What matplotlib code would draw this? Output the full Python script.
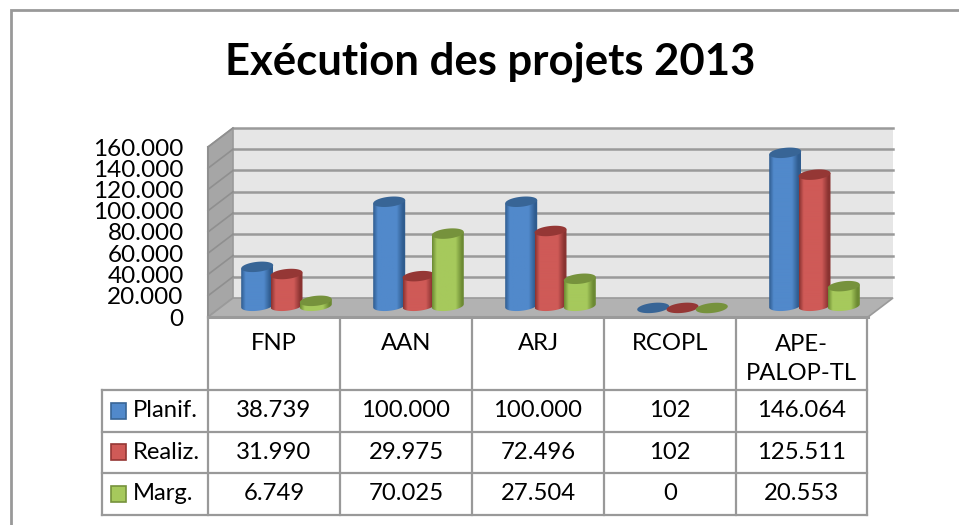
import numpy as np
import matplotlib.pyplot as plt
from matplotlib.colors import LinearSegmentedColormap
from matplotlib.patches import Polygon, Rectangle
from matplotlib.ticker import FuncFormatter

plt.rcParams['font.family'] = ['Lato', 'DejaVu Sans']

# data
categories = ['FNP', 'AAN', 'ARJ', 'RCOPL', 'APE-\nPALOP-TL']
series_names = ['Planif.', 'Realiz.', 'Marg.']
planif = [38739, 100000, 100000, 102, 146064]
realiz = [31990, 29975, 72496, 102, 125511]
marg = [6749, 70025, 27504, 0, 20553]
y_ticks = [0, 20000, 40000, 60000, 80000, 100000, 120000, 140000, 160000]

# colours: dark edge, light centre, cap
blue = ['#2f5c8f', '#5189cb', '#386596']
red = ['#8a3331', '#cf5a57', '#953735']
green = ['#6c8a33', '#a6c95c', '#76923c']

W, H = 959, 525
GRID = '#9a9a9a'


def thousands(v, pos=None):
    return f'{int(v):,}'.replace(',', '.')


fig = plt.figure(figsize=(W / 100, H / 100), dpi=100, facecolor='white')

# page layer in pixels: frame, title, table
page = fig.add_axes([0, 0, 1, 1], zorder=0)
page.set_xlim(0, W)
page.set_ylim(H, 0)
page.axis('off')
page.plot([10.5, 10.5, W], [H, 9.5, 9.5], color='#999999', lw=2.0, solid_joinstyle='miter')
page.text(490, 62, 'Exécution des projets 2013', fontsize=31.4, fontweight='bold',
          ha='center', va='center', color='black')

# chart layer: front plane of the 3D box
left, right, bottom, top = 208, 868, 317, 147
ax = fig.add_axes([left / W, 1 - bottom / H, (right - left) / W, (bottom - top) / H], zorder=1)
ax.patch.set_alpha(0)
for s in ax.spines.values():
    s.set_visible(False)

n = len(categories)
ymax = y_ticks[-1]
px_x = n / (right - left)
px_y = ymax / (bottom - top)
dx, dy = 25 * px_x, 19 * px_y

# walls and floor
ax.add_patch(Polygon([(dx, dy), (n + dx, dy), (n + dx, ymax + dy), (dx, ymax + dy)],
                     fc='#e6e6e6', ec='none', zorder=1, clip_on=False))
ax.add_patch(Polygon([(0, 0), (dx, dy), (dx, ymax + dy), (0, ymax)],
                     fc='#a6a6a6', ec=GRID, lw=1.2, zorder=1, clip_on=False))
ax.add_patch(Polygon([(0, 0), (n, 0), (n + dx, dy), (dx, dy)],
                     fc='#b2b2b2', ec=GRID, lw=1.2, zorder=2, clip_on=False))
for v in y_ticks[1:]:
    ax.plot([dx, n + dx], [v + dy, v + dy], color=GRID, lw=1.8, zorder=1.5, clip_on=False)
    ax.plot([0, dx], [v, v + dy], color='#8f8f8f', lw=1.2, zorder=1.5, clip_on=False)
ax.plot([0, 0], [0, ymax], color='#8f8f8f', lw=1.5, zorder=3, clip_on=False)
ax.plot([0, n], [0, 0], color=GRID, lw=2.2, zorder=3, clip_on=False)


def ellipse_pts(cx, cy, a, b, tilt, t0=0, t1=2 * np.pi, num=60):
    t = np.linspace(t0, t1, num)
    return np.column_stack([cx + a * np.cos(t), cy + b * np.sin(t) + tilt * np.cos(t)])


def cylinder(cx, value, cols, z):
    a = 16 * px_x
    b = 5 * px_y
    tilt = 1.6 * px_y
    base = dy / 2 - 0.5 * px_y
    cap_y = base + value
    if value > 500:
        # foot of the body sits a little higher than the cap ellipse would
        foot = base + 2.2 * px_y
        low = ellipse_pts(cx, foot, a, b, tilt, np.pi, 2 * np.pi)
        body = np.vstack([low, [[cx + a, cap_y + tilt]], [[cx - a, cap_y - tilt]]])
        patch = Polygon(body, fc='none', ec='none', zorder=z, clip_on=False)
        ax.add_patch(patch)
        cmap = LinearSegmentedColormap.from_list(
            'c', [(0, cols[0]), (.14, cols[1]), (.72, cols[1]), (.92, cols[0]), (1, cols[0])])
        grad = cmap(np.linspace(0, 1, 64).reshape(1, -1))
        im = ax.imshow(grad, extent=[cx - a, cx + a, foot - b - tilt, cap_y + tilt], aspect='auto',
                       zorder=z, interpolation='bilinear')
        im.set_clip_path(patch)
    ax.add_patch(Polygon(ellipse_pts(cx, cap_y, a, b, tilt), fc=cols[2], ec='none',
                         zorder=z + 0.01, clip_on=False))


all_series = [planif, realiz, marg]
all_cols = [blue, red, green]
step = 29.3 * px_x
z = 4
for i in range(n):
    for s, (vals, cols) in enumerate(zip(all_series, all_cols)):
        cylinder(i + 0.5 + dx / 2 + (s - 1) * step, vals[i], cols, z)
        z += 0.1

ax.set_xlim(0, n)
ax.set_ylim(0, ymax)
ax.set_xticks([])
ax.set_yticks(y_ticks)
ax.yaxis.set_major_formatter(FuncFormatter(thousands))
ax.tick_params(axis='y', length=0, pad=17.5, labelsize=17.5)

# data table
col_x = [102, 208, 340, 472, 604, 735.5, 867]
row_y = [317, 390, 431.5, 473, 514.5]
TBL = '#999999'
for x in col_x[1:]:
    page.plot([x, x], [row_y[0], row_y[-1]], color=TBL, lw=1.6, solid_capstyle='projecting')
page.plot([col_x[0], col_x[0]], [row_y[1], row_y[-1]], color=TBL, lw=1.6, solid_capstyle='projecting')
for y in row_y[1:]:
    page.plot([col_x[0], col_x[-1]], [y, y], color=TBL, lw=1.6, solid_capstyle='projecting')

TXT = 17.2
for i, cat in enumerate(categories):
    page.text((col_x[i + 1] + col_x[i + 2]) / 2, 359 if '\n' in cat else 344, cat, fontsize=TXT,
              ha='center', va='center', linespacing=1.5)
for r, (name, vals, cols) in enumerate(zip(series_names, all_series, all_cols)):
    yc = (row_y[r + 1] + row_y[r + 2]) / 2
    page.add_patch(Rectangle((110.5, yc - 8), 15.5, 16, fc=cols[1], ec=cols[2], lw=1.2))
    page.text(133, yc, name, fontsize=TXT, ha='left', va='center')
    for i, v in enumerate(vals):
        page.text((col_x[i + 1] + col_x[i + 2]) / 2, yc, thousands(v), fontsize=TXT,
                  ha='center', va='center')

fig.savefig('out.png', dpi=100, facecolor='white')
